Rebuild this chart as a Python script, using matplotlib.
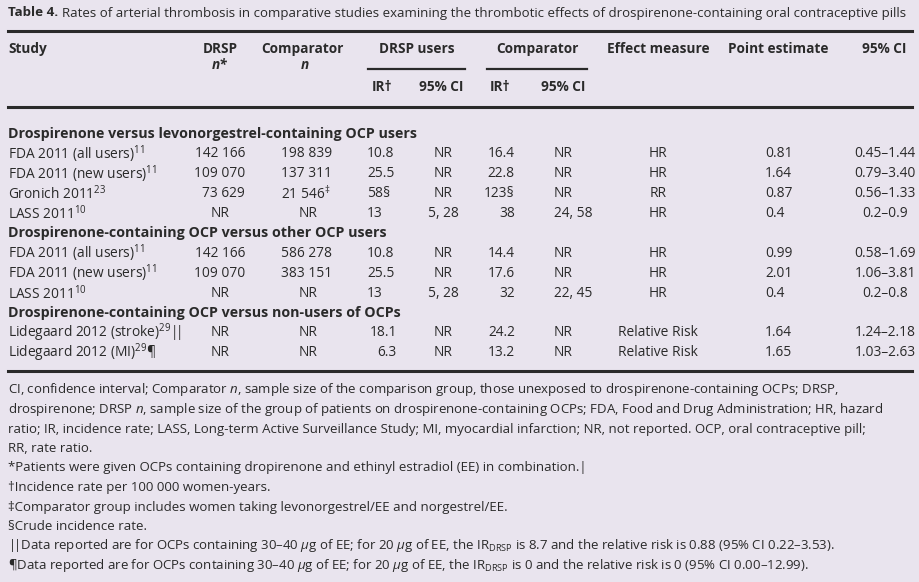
import matplotlib.pyplot as plt

plt.rcParams['font.family'] = ['Open Sans', 'DejaVu Sans']
plt.rcParams['mathtext.fontset'] = 'custom'
plt.rcParams['mathtext.rm'] = 'Open Sans'
plt.rcParams['mathtext.it'] = 'Open Sans:italic'
plt.rcParams['mathtext.bf'] = 'Open Sans:bold'

# table data
sections = ['Drospirenone versus levonorgestrel-containing OCP users',
            'Drospirenone-containing OCP versus other OCP users',
            'Drospirenone-containing OCP versus non-users of OCPs']
section_rows = [4, 3, 2]
studies = [r'FDA 2011 (all users)$^{11}$', r'FDA 2011 (new users)$^{11}$',
           r'Gronich 2011$^{23}$', r'LASS 2011$^{10}$',
           r'FDA 2011 (all users)$^{11}$', r'FDA 2011 (new users)$^{11}$',
           r'LASS 2011$^{10}$',
           r'Lidegaard 2012 (stroke)$^{29}|\!|$', r'Lidegaard 2012 (MI)$^{29}$¶']
drsp_n = ['142 166', '109 070', '73 629', 'NR', '142 166', '109 070', 'NR', 'NR', 'NR']
comp_n = ['198 839', '137 311', r'21 546$^{‡}$', 'NR', '586 278', '383 151', 'NR', 'NR', 'NR']
drsp_ir = ['10.8', '25.5', '58§', '13', '10.8', '25.5', '13', '18.1', '6.3']
drsp_ci = ['NR', 'NR', 'NR', '5, 28', 'NR', 'NR', '5, 28', 'NR', 'NR']
comp_ir = ['16.4', '22.8', '123§', '38', '14.4', '17.6', '32', '24.2', '13.2']
comp_ci = ['NR', 'NR', 'NR', '24, 58', 'NR', 'NR', '22, 45', 'NR', 'NR']
effect = ['HR', 'HR', 'RR', 'HR', 'HR', 'HR', 'HR', 'Relative Risk', 'Relative Risk']
point = ['0.81', '1.64', '0.87', '0.4', '0.99', '2.01', '0.4', '1.64', '1.65']
ci95 = ['0.45–1.44', '0.79–3.40', '0.56–1.33', '0.2–0.9', '0.58–1.69',
        '1.06–3.81', '0.2–0.8', '1.24–2.18', '1.03–2.63']

footnotes = [
    r'CI, confidence interval; Comparator $\it{n}$, sample size of the comparison group, those unexposed to drospirenone-containing OCPs; DRSP,',
    r'drospirenone; DRSP $\it{n}$, sample size of the group of patients on drospirenone-containing OCPs; FDA, Food and Drug Administration; HR, hazard',
    'ratio; IR, incidence rate; LASS, Long-term Active Surveillance Study; MI, myocardial infarction; NR, not reported. OCP, oral contraceptive pill;',
    'RR, rate ratio.',
    '*Patients were given OCPs containing dropirenone and ethinyl estradiol (EE) in combination.|',
    '†Incidence rate per 100 000 women-years.',
    '‡Comparator group includes women taking levonorgestrel/EE and norgestrel/EE.',
    '§Crude incidence rate.',
    r'$|\!|$Data reported are for OCPs containing 30–40 $\it{\mu}$g of EE; for 20 $\it{\mu}$g of EE, the IR$_{\mathrm{DRSP}}$ is 8.7 and the relative risk is 0.88 (95% CI 0.22–3.53).',
    r'¶Data reported are for OCPs containing 30–40 $\it{\mu}$g of EE; for 20 $\it{\mu}$g of EE, the IR$_{\mathrm{DRSP}}$ is 0 and the relative risk is 0 (95% CI 0.00–12.99).',
]

bg = '#e9e4ee'
fg = '#2a2a2a'
fs = 9.9

fig = plt.figure(figsize=(9.2, 5.82), dpi=100, facecolor=bg)
ax = fig.add_axes([0, 0, 1, 1])
ax.set_xlim(0, 920)
ax.set_ylim(582, 0)
ax.axis('off')


def txt(x, y, s, ha='left', **kw):
    kw.setdefault('fontsize', fs)
    kw.setdefault('color', fg)
    ax.text(x, y, s, ha=ha, va='center', **kw)


# title
txt(8, 13, 'Table 4.', fontweight='bold', fontsize=9.6)
txt(62, 13, 'Rates of arterial thrombosis in comparative studies examining the thrombotic '
    'effects of drospirenone-containing oral contraceptive pills', fontsize=9.55)

# rules
ax.plot([8, 912], [31, 31], color=fg, lw=2.2)
ax.plot([8, 912], [107, 107], color=fg, lw=2.2)
ax.plot([8, 912], [371, 371], color=fg, lw=2.2)
ax.plot([368, 465], [69, 69], color=fg, lw=1.6)
ax.plot([487, 587], [69, 69], color=fg, lw=1.6)

# header
hdr = dict(fontweight='bold', fontsize=9.8)
txt(8, 49, 'Study', **hdr)
txt(220, 49, 'DRSP', ha='center', **hdr)
txt(220, 65, 'n*', ha='center', fontstyle='italic', **hdr)
txt(302, 49, 'Comparator', ha='center', **hdr)
txt(305, 65, 'n', ha='center', fontstyle='italic', **hdr)
txt(417, 49, 'DRSP users', ha='center', **hdr)
txt(537, 49, 'Comparator', ha='center', **hdr)
txt(658, 49, 'Effect measure', ha='center', **hdr)
txt(778, 49, 'Point estimate', ha='center', **hdr)
txt(884, 49, '95% CI', ha='center', **hdr)
txt(372, 87, 'IR†', **hdr)
txt(441, 87, '95% CI', ha='center', **hdr)
txt(490, 87, 'IR†', **hdr)
txt(563, 87, '95% CI', ha='center', **hdr)

# body
y = 134
step = 19.9
i = 0
for sec, nrows in zip(sections, section_rows):
    txt(8, y, sec, fontweight='bold', fontsize=10.3)
    y += step
    for _ in range(nrows):
        txt(8, y, studies[i])
        if drsp_n[i] == 'NR':
            txt(220, y, drsp_n[i], ha='center')
        else:
            txt(245, y, drsp_n[i], ha='right')
        if comp_n[i] == 'NR':
            txt(308, y, comp_n[i], ha='center')
        elif '‡' in comp_n[i]:
            txt(281, y, comp_n[i])
        else:
            txt(332, y, comp_n[i], ha='right')
        if i >= 7:
            txt(397, y, drsp_ir[i], ha='right')
        else:
            txt(367, y, drsp_ir[i])
        txt(443, y, drsp_ci[i], ha='center')
        txt(515, y, comp_ir[i], ha='right')
        txt(554, y, comp_ci[i])
        txt(658, y, effect[i], ha='center')
        txt(765, y, point[i])
        txt(885, y, ci95[i], ha='center')
        y += step
        i += 1

# footnotes
for k, line in enumerate(footnotes):
    txt(8, 390 + k * 19.5, line, fontsize=9.5)

fig.savefig('out.png', dpi=100, facecolor=bg)
